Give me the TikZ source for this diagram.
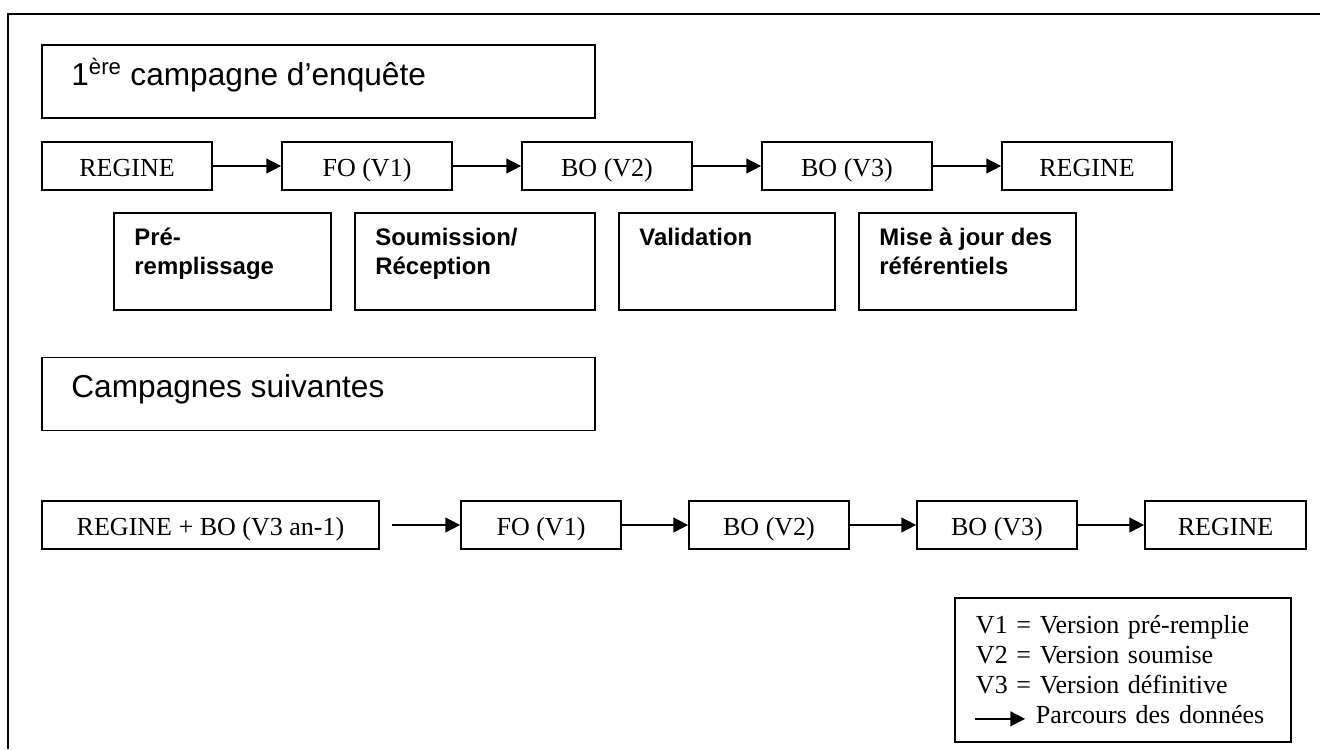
\documentclass[tikz,border=0pt]{standalone}
\usepackage{fontspec}
\setmainfont{Liberation Serif}
\setsansfont{Liberation Sans}
\usetikzlibrary{arrows.meta}

\begin{document}
\begin{tikzpicture}[x=0.025cm, y=-0.025cm,
    boite/.style={draw, line width=1.2pt, inner sep=0pt, minimum height=1.2cm, text height=16pt, text depth=0.4pt, font=\fontsize{18.5}{22}\selectfont},
    titre/.style={draw, line width=1.2pt, minimum width=13.825cm, minimum height=1.825cm},
    etape/.style={draw, line width=1.2pt, minimum height=2.425cm},
    txtetape/.style={anchor=north west, inner sep=0pt, align=left, xshift=0.525cm, yshift=-0.4cm, font=\sffamily\bfseries\fontsize{17}{20.6}\selectfont},
    txttitre/.style={anchor=base west, inner sep=0pt, xshift=0.75cm, yshift=-1.03cm, font=\sffamily\fontsize{22.5}{27}\selectfont},
    fleche/.style={line width=1.2pt, -{Triangle[length=10.5pt,width=10.5pt]}}]

    \useasboundingbox (0,0) rectangle (1320,749);
    % cadre
    \draw[line width=1.4pt] (8,749) -- (8,14) -- (1320,14);

    % 1ere campagne
    \node[titre, label={[txttitre]north west:1\textsuperscript{ère} campagne d’enquête}] (t1) at (318.5,81.5) {};

    \node[boite, minimum width=4.25cm] (r1) at (127,166) {REGINE};
    \node[boite, minimum width=4.25cm] (fo1) at (367,166) {FO (V1)};
    \node[boite, minimum width=4.25cm] (bo1) at (607,166) {BO (V2)};
    \node[boite, minimum width=4.25cm] (bt1) at (847,166) {BO (V3)};
    \node[boite, minimum width=4.25cm] (rf1) at (1087,166) {REGINE};

    \draw[fleche] (r1) -- (fo1);
    \draw[fleche] (fo1) -- (bo1);
    \draw[fleche] (bo1) -- (bt1);
    \draw[fleche] (bt1) -- (rf1);

    \node[etape, minimum width=5.425cm, label={[txtetape]north west:Pré-\\remplissage}] (e1) at (222.5,261.5) {};
    \node[etape, minimum width=6cm, label={[txtetape]north west:Soumission/\\Réception}] (e2) at (475,261.5) {};
    \node[etape, minimum width=5.4cm, label={[txtetape]north west:Validation}] (e3) at (727,261.5) {};
    \node[etape, minimum width=5.425cm, label={[txtetape]north west:Mise à jour des\\référentiels}] (e4) at (967.5,261.5) {};

    % campagnes suivantes
    \node[titre, label={[txttitre]north west:Campagnes suivantes}] (t2) at (318.5,394) {};

    \node[boite, minimum width=8.425cm] (r2) at (210.5,525) {REGINE + BO (V3 an-1)};
    \node[boite, minimum width=4cm] (fo2) at (541,525) {FO (V1)};
    \node[boite, minimum width=4cm] (bo2) at (769,525) {BO (V2)};
    \node[boite, minimum width=4cm] (bt2) at (997,525) {BO (V3)};
    \node[boite, minimum width=4.025cm] (rf2) at (1225.5,525) {REGINE};

    \draw[fleche, shorten <=0.3cm] (r2) -- (fo2);
    \draw[fleche] (fo2) -- (bo2);
    \draw[fleche] (bo2) -- (bt2);
    \draw[fleche] (bt2) -- (rf2);

    % legende
    \node[draw, line width=1.2pt, inner sep=0pt, minimum width=8.4cm, minimum height=3.6cm, text width=7.35cm, align=left,
        font=\fontsize{18.5}{21.3}\selectfont] (leg) at (1123,670)
        {V1 = Version pré-remplie\\V2 = Version soumise\\V3 = Version définitive\\\hspace*{1.5cm}Parcours des données};
    \coordinate (la) at ([xshift=0.525cm, yshift=0.6cm]leg.south west);
    \coordinate (lb) at ([xshift=1.25cm]la);
    \draw[fleche] (la) -- (lb);
\end{tikzpicture}
\end{document}
